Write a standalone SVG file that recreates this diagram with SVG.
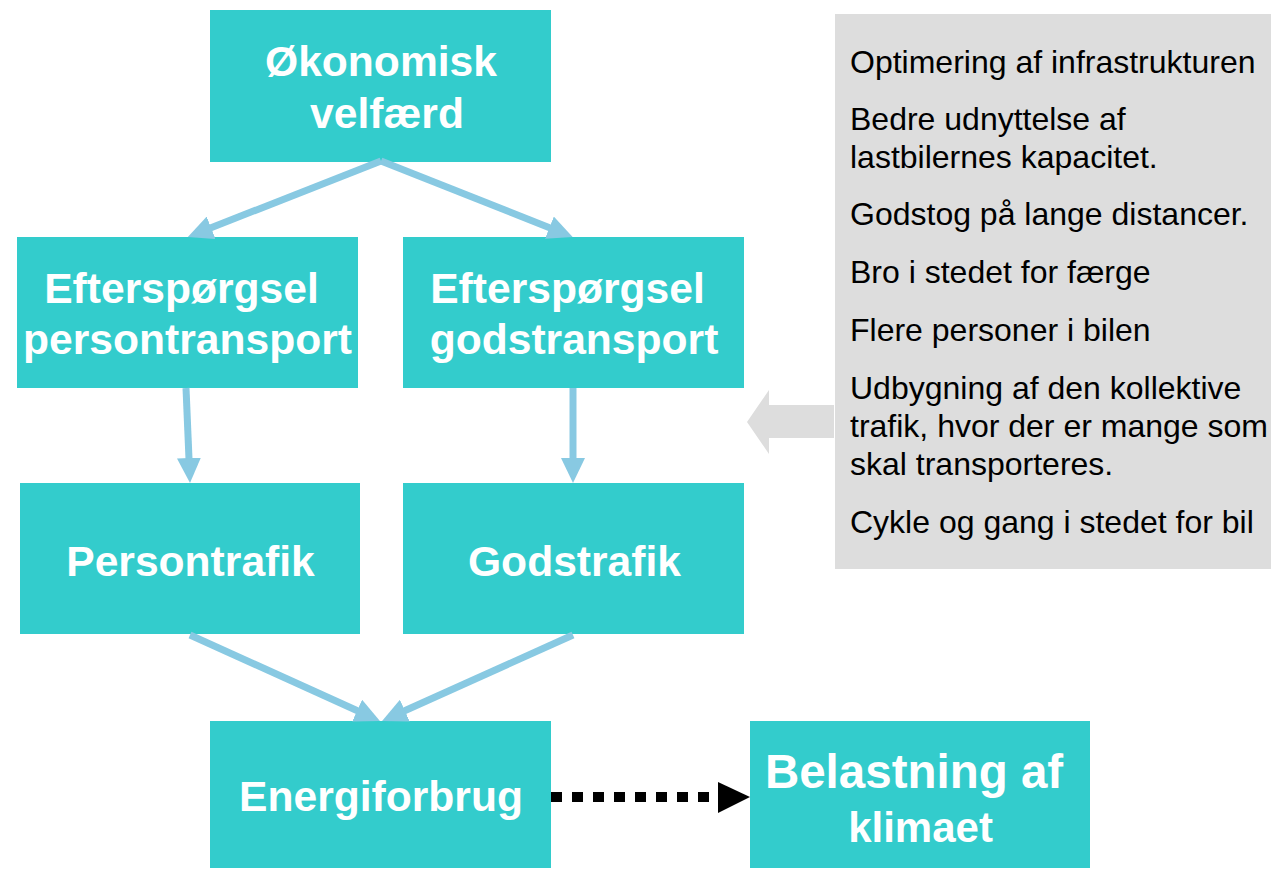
<svg xmlns="http://www.w3.org/2000/svg" width="1271" height="869" viewBox="0 0 1271 869">
<style>
.box{fill:#33CCCC}
.t{font-family:"Liberation Sans",Arial,sans-serif;font-weight:bold;font-size:42.6px;fill:#FFFFFF;text-anchor:middle}
.g{font-family:"Liberation Sans",Arial,sans-serif;font-size:32px;fill:#000000}
.a{stroke:#88C9E2;stroke-width:7;fill:none;marker-end:url(#ah)}
</style>
<defs>
<marker id="ah" markerUnits="userSpaceOnUse" viewBox="0 0 25 24" refX="13" refY="12" markerWidth="25" markerHeight="24" orient="auto">
<path d="M0,0 L25,12 L0,24 z" fill="#88C9E2"/>
</marker>
</defs>
<rect width="1271" height="869" fill="#FFFFFF"/>
<g id="panel">
<rect x="835" y="14" width="436" height="555" fill="#DDDDDD"/>
<polygon points="747,422 769,390 769,405 834,405 834,438 769,438 769,454" fill="#DDDDDD"/>
<text class="g" x="850" y="73">Optimering af infrastrukturen</text>
<text class="g" x="850" y="130">Bedre udnyttelse af</text>
<text class="g" x="850" y="168">lastbilernes kapacitet.</text>
<text class="g" x="850" y="225">Godstog på lange distancer.</text>
<text class="g" x="850" y="283">Bro i stedet for færge</text>
<text class="g" x="850" y="341">Flere personer i bilen</text>
<text class="g" x="850" y="399">Udbygning af den kollektive</text>
<text class="g" x="850" y="437">trafik, hvor der er mange som</text>
<text class="g" x="850" y="475">skal transporteres.</text>
<text class="g" x="850" y="533">Cykle og gang i stedet for bil</text>
</g>
<g id="n1">
<rect class="box" x="210" y="10" width="341" height="152"/>
<text class="t" x="381" y="76">Økonomisk</text>
<text class="t" x="387" y="128">velfærd</text>
</g>
<g id="n2">
<rect class="box" x="17" y="237" width="341" height="151"/>
<text class="t" x="181.5" y="303">Efterspørgsel</text>
<text class="t" x="187.5" y="354">persontransport</text>
</g>
<g id="n3">
<rect class="box" x="403" y="237" width="341" height="151"/>
<text class="t" x="567.5" y="303">Efterspørgsel</text>
<text class="t" x="574" y="354">godstransport</text>
</g>
<g id="n4">
<rect class="box" x="20" y="483" width="340" height="151"/>
<text class="t" x="190.5" y="576">Persontrafik</text>
</g>
<g id="n5">
<rect class="box" x="403" y="483" width="341" height="151"/>
<text class="t" x="574.5" y="576">Godstrafik</text>
</g>
<g id="n6">
<rect class="box" x="210" y="721" width="341" height="147"/>
<text class="t" x="381" y="811">Energiforbrug</text>
</g>
<g id="n7">
<rect class="box" x="750" y="721" width="340" height="147"/>
<text class="t" x="914" y="788" style="font-size:47.5px">Belastning af</text>
<text class="t" x="920.5" y="842" style="font-size:42px">klimaet</text>
</g>
<g id="connectors">
<line class="a" x1="381" y1="161" x2="199" y2="232.5"/>
<line class="a" x1="381" y1="161" x2="561.5" y2="232.5"/>
<line class="a" x1="186" y1="388" x2="189.5" y2="471"/>
<line class="a" x1="573" y1="388" x2="573" y2="471"/>
<line class="a" x1="190" y1="635" x2="369" y2="716"/>
<line class="a" x1="573" y1="635" x2="393" y2="716"/>
<line x1="551" y1="797" x2="718" y2="797" stroke="#000000" stroke-width="10" stroke-dasharray="11 10"/>
<polygon points="718,782 750,797 718,813" fill="#000000"/>
</g>
</svg>
